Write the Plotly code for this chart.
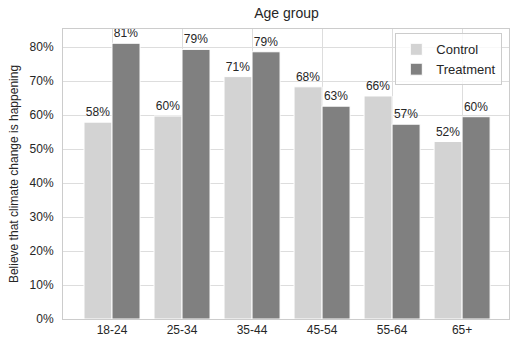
import plotly.graph_objects as go

age_groups = ['18-24', '25-34', '35-44', '45-54', '55-64', '65+']
control = [57.9, 59.7, 71.3, 68.3, 65.6, 52.2]
treatment = [81.1, 79.3, 78.6, 62.6, 57.3, 59.5]
y_ticks = [0, 10, 20, 30, 40, 50, 60, 70, 80]

FONT = 'Liberation Sans, Arial, sans-serif'


def bar(name, values, color):
    return go.Bar(
        x=age_groups, y=values, name=name,
        marker=dict(color=color, line=dict(color='white', width=1)),
        text=[f'{round(v)}%' for v in values],
        textposition='outside',
        textfont=dict(size=12, color='#262626'),
        cliponaxis=False,
    )


fig = go.Figure()
fig.add_trace(bar('Control', control, '#d3d3d3'))
fig.add_trace(bar('Treatment', treatment, '#808080'))

fig.update_layout(
    width=519, height=350,
    margin=dict(l=63, r=10, t=29, b=31, autoexpand=False),
    plot_bgcolor='white', paper_bgcolor='white',
    font=dict(family=FONT, size=12, color='#262626'),
    title=dict(text='Age group', x=0.552, xanchor='center', y=0.963,
               yanchor='middle', font=dict(size=14, color='#262626')),
    barmode='group', bargap=0.2, bargroupgap=0,
    legend=dict(x=0.985, y=0.985, xanchor='right', yanchor='top',
                bordercolor='#cccccc', borderwidth=1, bgcolor='rgba(255,255,255,0.8)',
                font=dict(size=13, color='#262626'), tracegroupgap=0),
    xaxis=dict(range=[-0.7, 5.67], showgrid=True, gridcolor='#dddddd',
               showline=True, linecolor='#cccccc', mirror=True,
               ticks='', tickfont=dict(size=12)),
    yaxis=dict(range=[0, 85.3], tickmode='array', tickvals=y_ticks,
               ticktext=[f'{t}%' for t in y_ticks],
               showgrid=True, gridcolor='#dddddd', zeroline=False,
               showline=True, linecolor='#cccccc', mirror=True,
               ticks='', tickfont=dict(size=12), ticklabelstandoff=6,
               title=dict(text='Believe that climate change is happening',
                          font=dict(size=12), standoff=8)),
)

fig.write_html('out.html', config={'displayModeBar': False},
               post_script="document.body.style.margin='0px';")
